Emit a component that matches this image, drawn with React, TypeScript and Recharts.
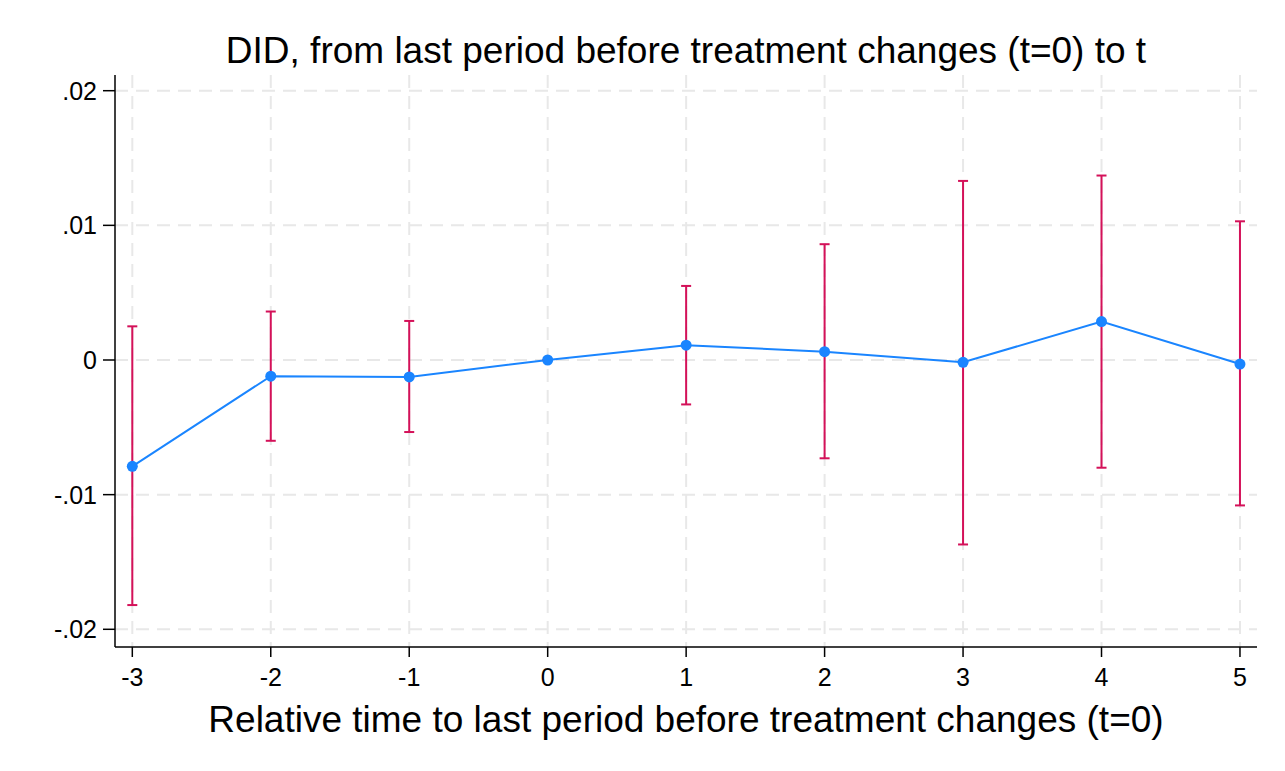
import {
  ComposedChart,
  Line,
  ErrorBar,
  XAxis,
  YAxis,
  CartesianGrid,
  Label,
} from "recharts";

// event-study estimates
const periods = [-3, -2, -1, 0, 1, 2, 3, 4, 5];
const coef = [-0.0079, -0.0012, -0.00126, 0, 0.0011, 0.00062, -0.00017, 0.00285, -0.0003];
const ciLow = [-0.0182, -0.006, -0.00535, 0, -0.0033, -0.0073, -0.0137, -0.008, -0.0108];
const ciHigh = [0.0025, 0.0036, 0.0029, 0, 0.0055, 0.0086, 0.0133, 0.0137, 0.0103];
const yTicks = [-0.02, -0.01, 0, 0.01, 0.02];

const data = periods.map((t, i) => ({
  t,
  coef: coef[i],
  err: [coef[i] - ciLow[i], ciHigh[i] - coef[i]],
}));

const FONT = "'Liberation Sans', Arial, sans-serif";
const BLUE = "#1a85ff";
const RED = "#d41159";

const fmtY = (v: number) => {
  if (Math.abs(v) < 1e-9) return "0";
  const s = Math.abs(v).toFixed(2).replace(/^0/, "");
  return (v < 0 ? "-" : "") + s;
};

export default function App() {
  return (
    <div style={{ position: "absolute", left: 0, top: 0, width: 1285, height: 771, background: "#fff" }}>
      <ComposedChart
        width={1285}
        height={771}
        data={data}
        margin={{ top: 75, right: 28, bottom: 0, left: 0 }}
        style={{ fontFamily: FONT }}
      >
        <CartesianGrid
          stroke="#e8e8e8"
          strokeWidth={2}
          strokeDasharray="13 8"
          horizontalValues={yTicks}
          verticalValues={periods}
        />
        <XAxis
          type="number"
          dataKey="t"
          domain={[-3.125, 5.123]}
          ticks={periods}
          allowDataOverflow
          height={124}
          tickSize={10}
          tickMargin={11}
          stroke="#000"
          strokeWidth={1.5}
          tick={{ fontSize: 25, fill: "#000", fontFamily: FONT }}
          tickLine={{ stroke: "#000", strokeWidth: 1.5 }}
        >
          <Label
            value="Relative time to last period before treatment changes (t=0)"
            position="insideBottom"
            offset={39}
            style={{ fontSize: 37, fill: "#000", fontFamily: FONT }}
          />
        </XAxis>
        <YAxis
          type="number"
          domain={[-0.021315, 0.021166]}
          ticks={yTicks}
          allowDataOverflow
          width={115}
          tickSize={12}
          tickMargin={6}
          tickFormatter={fmtY}
          stroke="#000"
          strokeWidth={1.5}
          tick={{ fontSize: 25, fill: "#000", fontFamily: FONT }}
          tickLine={{ stroke: "#000", strokeWidth: 1.5 }}
        />
        <Line
          dataKey="coef"
          stroke={BLUE}
          strokeWidth={2}
          dot={{ r: 5.5, fill: BLUE, stroke: "none" }}
          activeDot={false}
          isAnimationActive={false}
        />
        {/* second pass only to draw the CIs above the markers */}
        <Line
          dataKey="coef"
          stroke="none"
          dot={false}
          activeDot={false}
          isAnimationActive={false}
        >
          <ErrorBar dataKey="err" width={5} stroke={RED} strokeWidth={2} direction="y" isAnimationActive={false} />
        </Line>
      </ComposedChart>
      <svg
        width={1285}
        height={771}
        style={{ position: "absolute", left: 0, top: 0, pointerEvents: "none" }}
      >
        <text x={686} y={63} textAnchor="middle" fontSize={37} fontFamily={FONT} fill="#000">
          DID, from last period before treatment changes (t=0) to t
        </text>
      </svg>
    </div>
  );
}
